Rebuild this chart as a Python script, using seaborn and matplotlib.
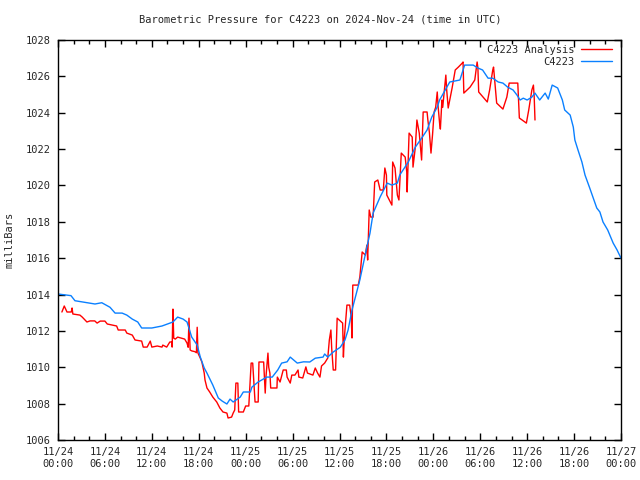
import numpy as np
import pandas as pd
import matplotlib
matplotlib.use("Agg")
import matplotlib.pyplot as plt
import seaborn as sns

# ========== DATA (hours since 2024-11-24 00:00 UTC, pressure in mb) ==========
station_hours = [0, 1.66, 2.17, 4.73, 5.6, 6.65, 7.3, 8.2, 8.8, 9.5, 10.2, 10.7, 12.0, 13.3,
                 14.7, 15.3, 16.0, 16.5, 17.1, 17.8, 18.2, 18.7, 19.05, 19.8, 20.5, 21.0, 21.6,
                 22.0, 22.4, 23.3, 23.7, 24.6, 24.8, 25.6, 26.7, 27.4, 28.1, 28.6, 29.3, 29.7,
                 30.6, 31.4, 32.2, 32.9, 33.9, 34.1, 34.5, 35.2, 36.1, 36.7, 37.1, 37.6, 38.6,
                 39.5, 39.9, 40.3, 41.2, 42.1, 42.7, 43.4, 43.7, 44.8, 45.7, 46.5, 47.2, 47.8,
                 48.5, 48.8, 50.1, 51.4, 52.0, 53.1, 53.7, 54.3, 55.0, 55.6, 56.3, 56.9, 57.5,
                 58.2, 58.7, 59.1, 59.5, 60.0, 60.6, 61.0, 61.6, 62.3, 62.7, 63.2, 63.9, 64.5,
                 64.8, 65.5, 65.9, 66.1, 66.5, 67.0, 67.4, 68.0, 68.4, 68.9, 69.3, 69.7, 70.3,
                 71.0, 71.5, 72.0]
station_mb = [1014.03, 1013.94, 1013.66, 1013.48, 1013.55, 1013.3, 1012.98, 1012.98, 1012.87,
              1012.65, 1012.49, 1012.16, 1012.16, 1012.27, 1012.49, 1012.76, 1012.65, 1012.49,
              1011.66, 1011.22, 1010.56, 1009.96, 1009.68, 1009.02, 1008.31, 1008.14, 1007.98,
              1008.25, 1008.09, 1008.36, 1008.64, 1008.64, 1008.91, 1009.19, 1009.46, 1009.46,
              1009.85, 1010.23, 1010.3, 1010.56, 1010.23, 1010.3, 1010.29, 1010.5, 1010.56,
              1010.73, 1010.56, 1010.84, 1011.1, 1011.5, 1012.05, 1013.15, 1014.8, 1016.61,
              1017.38, 1018.48, 1019.37, 1020.13, 1020.02, 1020.13, 1020.57, 1021.29, 1022.11,
              1022.6, 1023.05, 1023.76, 1024.31, 1024.7, 1025.69, 1025.8, 1026.62, 1026.62,
              1026.46, 1026.35, 1025.9, 1025.9, 1025.69, 1025.63, 1025.41, 1025.25, 1024.97,
              1024.7, 1024.8, 1024.7, 1024.86, 1025.08, 1024.7, 1025.08, 1024.75, 1025.52,
              1025.36, 1024.7, 1024.15, 1023.87, 1023.21, 1022.5, 1021.95, 1021.29, 1020.57,
              1019.86, 1019.37, 1018.76, 1018.54, 1017.99, 1017.55, 1016.83, 1016.45, 1016.0]

analysis_hours = [0.5, 0.8, 1.15, 1.7, 1.8, 1.9, 2.8, 3.1, 3.45, 3.7, 4.1, 4.7, 5.0, 5.4, 6.0,
                  6.3, 7.5, 7.7, 8.6, 8.8, 9.5, 9.85, 10.7, 10.9, 11.4, 11.8, 12.0, 12.7, 13.3,
                  13.4, 13.9, 14.3, 14.55, 14.6, 14.7, 14.8, 15.0, 15.3, 16.2, 16.5, 16.65, 16.75,
                  16.9, 17.1, 17.5, 17.7, 17.8, 17.9, 18.2, 18.4, 18.7, 18.8, 19.05, 19.4, 19.8,
                  20.3, 20.7, 21.1, 21.6, 21.75, 22.2, 22.4, 22.6, 22.75, 23.0, 23.1, 23.7, 24.0,
                  24.4, 24.7, 24.9, 25.2, 25.6, 25.7, 26.3, 26.5, 26.6, 26.85, 26.95, 27.1, 27.2,
                  28.0, 28.05, 28.4, 28.8, 29.2, 29.3, 29.7, 29.9, 30.3, 30.7, 30.8, 31.3, 31.7,
                  31.9, 32.6, 32.9, 33.2, 33.5, 33.7, 34.1, 34.5, 34.7, 34.9, 35.0, 35.2, 35.5,
                  35.7, 36.4, 36.5, 36.6, 36.95, 37.3, 37.5, 37.6, 37.7, 38.4, 38.6, 38.9, 39.3,
                  39.5, 39.6, 39.8, 40.0, 40.3, 40.5, 40.9, 41.2, 41.6, 41.8, 42.0, 42.05, 42.7,
                  42.8, 43.1, 43.4, 43.6, 43.9, 44.4, 44.6, 44.65, 44.9, 45.3, 45.4, 45.7, 45.9,
                  46.2, 46.5, 46.7, 47.2, 47.3, 47.5, 47.7, 47.9, 48.1, 48.3, 48.5, 48.6, 48.8,
                  48.9, 49.1, 49.2, 49.6, 49.7, 49.9, 50.4, 50.8, 51.2, 51.7, 51.8, 51.9, 52.7,
                  53.3, 53.6, 53.7, 53.8, 54.9, 55.2, 55.6, 55.7, 55.9, 56.1, 56.9, 57.4, 57.7,
                  58.8, 59.0, 59.9, 60.2, 60.6, 60.8, 60.9, 61.0]
analysis_mb = [1013.04, 1013.37, 1013.04, 1013.04, 1013.26, 1012.93, 1012.87, 1012.76, 1012.6,
               1012.49, 1012.55, 1012.55, 1012.43, 1012.54, 1012.54, 1012.38, 1012.27, 1012.05,
               1012.05, 1011.88, 1011.77, 1011.5, 1011.44, 1011.11, 1011.11, 1011.44, 1011.11,
               1011.17, 1011.11, 1011.22, 1011.11, 1011.39, 1011.39, 1011.11, 1013.2, 1011.6,
               1011.55, 1011.66, 1011.55, 1011.33, 1011.1, 1012.7, 1010.95, 1010.9, 1010.86,
               1010.8, 1012.2, 1010.78, 1010.5, 1010.29, 1009.68, 1009.3, 1008.86, 1008.64,
               1008.36, 1008.09, 1007.76, 1007.54, 1007.48, 1007.21, 1007.26, 1007.48, 1007.65,
               1009.13, 1009.13, 1007.54, 1007.54, 1007.87, 1007.87, 1010.23, 1010.23, 1008.09,
               1008.09, 1010.29, 1010.29, 1008.58, 1009.5, 1010.78, 1010.0, 1009.68, 1008.86,
               1008.86, 1009.46, 1009.19, 1009.85, 1009.85, 1009.46, 1009.13, 1009.57, 1009.57,
               1009.85, 1009.46, 1009.41, 1010.02, 1009.68, 1009.57, 1009.96, 1009.68, 1009.46,
               1010.07, 1010.23, 1010.51, 1011.5, 1012.05, 1011.06, 1009.85, 1009.85, 1012.7,
               1012.43, 1010.56, 1011.5, 1013.42, 1013.42, 1012.76, 1011.61, 1014.52, 1014.52,
               1014.96, 1016.34, 1016.17, 1016.72, 1015.9, 1018.65, 1018.26, 1018.26, 1020.19,
               1020.3, 1019.75, 1019.75, 1020.96, 1020.57, 1019.47, 1018.92, 1021.29, 1020.96,
               1019.47, 1019.2, 1021.78, 1021.56, 1020.74, 1019.64, 1022.88, 1022.66, 1021.01,
               1022.11, 1023.6, 1022.88, 1021.4, 1024.04, 1024.04, 1023.6, 1022.9, 1021.78,
               1022.8, 1024.04, 1024.3, 1025.14, 1024.4, 1023.43, 1023.1, 1024.7, 1024.3,
               1026.07, 1025.3, 1024.26, 1025.36, 1026.35, 1026.51, 1026.73, 1026.79, 1025.08,
               1025.41, 1025.8, 1026.79, 1026.46, 1025.14, 1024.59, 1025.25, 1026.35, 1026.51,
               1025.52, 1024.53, 1024.2, 1024.86, 1025.63, 1025.63, 1023.71, 1023.43, 1024.15,
               1025.25, 1025.52, 1024.86, 1023.6]

tick_hours = [0, 6, 12, 18, 24, 30, 36, 42, 48, 54, 60, 66, 72]
tick_labels = ["11/24\n00:00", "11/24\n06:00", "11/24\n12:00", "11/24\n18:00",
               "11/25\n00:00", "11/25\n06:00", "11/25\n12:00", "11/25\n18:00",
               "11/26\n00:00", "11/26\n06:00", "11/26\n12:00", "11/26\n18:00",
               "11/27\n00:00"]

# ========== BUILD LONG TABLE ==========
df = pd.concat([
    pd.DataFrame({"hour": analysis_hours, "mb": analysis_mb, "series": "C4223 Analysis"}),
    pd.DataFrame({"hour": station_hours, "mb": station_mb, "series": "C4223"}),
])

# ========== PLOT ==========
sns.set_style("ticks")
plt.rcParams["font.family"] = ["DejaVu Sans Mono"]
plt.rcParams["font.size"] = 7.5

fig = plt.figure(figsize=(6.4, 4.8), dpi=100)
ax = fig.add_axes([58 / 640, 40 / 480, 563 / 640, 400 / 480])

sns.lineplot(data=df, x="hour", y="mb", hue="series", estimator=None, sort=False,
             palette={"C4223 Analysis": "#ff0000", "C4223": "#0a80ff"},
             linewidth=1.0, ax=ax)

ax.set_xlim(0, 72)
ax.set_ylim(1006, 1028)
ax.set_xticks(tick_hours)
ax.set_xticklabels(tick_labels)
ax.set_xticks(np.arange(0, 73, 2), minor=True)
ax.set_yticks(np.arange(1006, 1029, 2))
ax.tick_params(which="both", direction="in", top=True, right=True, labelsize=7.5,
               color="black", width=1)
ax.tick_params(which="major", length=5, pad=5)
ax.tick_params(which="minor", length=3)
for s in ax.spines.values():
    s.set_color("black")
    s.set_linewidth(1)

ax.set_xlabel("")
ax.set_ylabel("milliBars", fontsize=7.5, labelpad=8)
fig.text(0.5, 1 - 19 / 480, "Barometric Pressure for C4223 on 2024-Nov-24 (time in UTC)",
         ha="center", va="center", fontsize=7.5)

ax.legend(loc="upper right", bbox_to_anchor=(0.997, 1.006), frameon=False,
          markerfirst=False, handlelength=3.0, labelspacing=0.2, fontsize=7.5,
          borderaxespad=0.3, handletextpad=0.6)

fig.savefig("out.png", dpi=100)
